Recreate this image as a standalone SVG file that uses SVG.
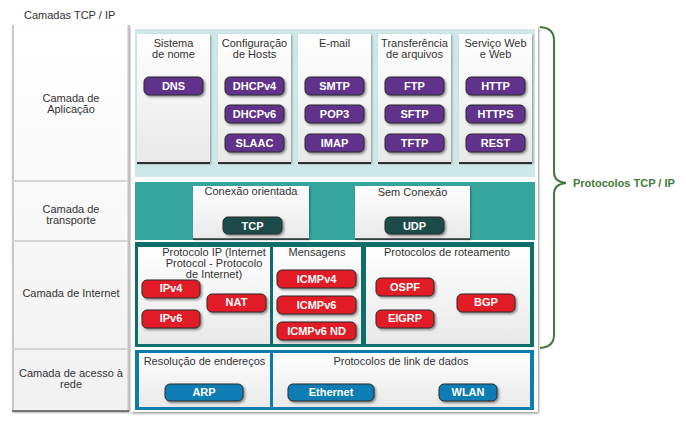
<svg xmlns="http://www.w3.org/2000/svg" width="686" height="438" viewBox="0 0 686 438">
  <defs>
    <linearGradient id="boxGrad" x1="0" y1="0" x2="0" y2="1">
      <stop offset="0" stop-color="#ffffff"/>
      <stop offset="1" stop-color="#e9e9e9"/>
    </linearGradient>
    <linearGradient id="cellGrad" x1="0" y1="0" x2="0" y2="1">
      <stop offset="0" stop-color="#ffffff"/>
      <stop offset="1" stop-color="#f1f1f1"/>
    </linearGradient>
    <filter id="btnShadow" x="-20%" y="-30%" width="140%" height="170%">
      <feDropShadow dx="1.5" dy="1.5" stdDeviation="1" flood-color="#000" flood-opacity="0.45"/>
    </filter>
    <filter id="boxShadow" x="-10%" y="-10%" width="120%" height="120%">
      <feDropShadow dx="1" dy="1" stdDeviation="1" flood-color="#000" flood-opacity="0.35"/>
    </filter>
    <filter id="panelShadow" x="-5%" y="-5%" width="110%" height="110%">
      <feDropShadow dx="1" dy="1.5" stdDeviation="1.2" flood-color="#000" flood-opacity="0.4"/>
    </filter>
  </defs>
  <style>
    text { font-family: "Liberation Sans", Arial, sans-serif; }
    .hdr { font-size: 11px; fill: #333333; text-anchor: middle; }
    .lbl { font-size: 11px; fill: #333333; text-anchor: middle; }
    .btxt { font-size: 11px; font-weight: bold; fill: #ffffff; text-anchor: middle; }
    .box { fill: url(#boxGrad); filter: url(#boxShadow); }
    .btn { stroke: #2b2b2b; stroke-width: 1; filter: url(#btnShadow); }
    .app { fill: #61308b; }
    .tr { fill: #1a4b49; }
    .inet { fill: #e21d26; }
    .net { fill: #0b7db3; }
    .sep { stroke: #d6d6d6; stroke-width: 2; }
  </style>

  <rect width="686" height="438" fill="#ffffff"/>

  <!-- title -->
  <text x="24" y="19" font-size="11" fill="#333333">Camadas TCP / IP</text>

  <!-- left column with the layer names -->
  <g id="layer-names">
    <rect x="12" y="25" width="117" height="386" fill="url(#cellGrad)" filter="url(#panelShadow)"/>
    <line x1="13" y1="25" x2="13" y2="411" stroke="#c9c9c9" stroke-width="2"/>
    <line x1="128.5" y1="25" x2="128.5" y2="411" stroke="#c4c4c4" stroke-width="2"/>
    <line class="sep" x1="13" y1="181" x2="128" y2="181"/>
    <line class="sep" x1="13" y1="241" x2="128" y2="241"/>
    <line class="sep" x1="13" y1="349" x2="128" y2="349"/>
    <line x1="12" y1="411" x2="129" y2="411" stroke="#555555" stroke-width="1.5"/>
    <text class="lbl" x="71" y="102">Camada de</text>
    <text class="lbl" x="71" y="113">Aplicação</text>
    <text class="lbl" x="71" y="213">Camada de</text>
    <text class="lbl" x="71" y="224">transporte</text>
    <text class="lbl" x="71" y="297">Camada de Internet</text>
    <text class="lbl" x="71" y="377">Camada de acesso à</text>
    <text class="lbl" x="71" y="388">rede</text>
  </g>

  <!-- right container -->
  <rect x="131" y="25" width="407" height="387" fill="#ffffff" filter="url(#panelShadow)"/>

  <!-- application layer -->
  <g id="application-layer">
    <rect x="135" y="29" width="400" height="148" fill="#cde8e6"/>
  </g>

  <g id="name-system">
    <rect class="box" x="137" y="34" width="73" height="129"/>
    <line x1="137" y1="163" x2="210" y2="163" stroke="#2e2e2e" stroke-width="2"/>
    <text class="hdr" x="173.5" y="47">Sistema</text>
    <text class="hdr" x="173.5" y="58">de nome</text>
    <g id="dns"><rect class="btn app" x="144" y="77" width="59" height="18" rx="5"/><text class="btxt" x="173.5" y="90">DNS</text></g>
  </g>

  <g id="host-config">
    <rect class="box" x="218" y="34" width="73" height="129"/>
    <line x1="218" y1="163" x2="291" y2="163" stroke="#2e2e2e" stroke-width="2"/>
    <text class="hdr" x="254.5" y="47">Configuração</text>
    <text class="hdr" x="254.5" y="58">de Hosts</text>
    <g id="dhcpv4"><rect class="btn app" x="225" y="77" width="59" height="18" rx="5"/><text class="btxt" x="254.5" y="90">DHCPv4</text></g>
    <g id="dhcpv6"><rect class="btn app" x="225" y="105" width="59" height="18" rx="5"/><text class="btxt" x="254.5" y="118">DHCPv6</text></g>
    <g id="slaac"><rect class="btn app" x="225" y="134" width="59" height="18" rx="5"/><text class="btxt" x="254.5" y="147">SLAAC</text></g>
  </g>

  <g id="email">
    <rect class="box" x="298" y="34" width="73" height="129"/>
    <line x1="298" y1="163" x2="371" y2="163" stroke="#2e2e2e" stroke-width="2"/>
    <text class="hdr" x="334.5" y="47">E-mail</text>
    <g id="smtp"><rect class="btn app" x="305" y="77" width="59" height="18" rx="5"/><text class="btxt" x="334.5" y="90">SMTP</text></g>
    <g id="pop3"><rect class="btn app" x="305" y="105" width="59" height="18" rx="5"/><text class="btxt" x="334.5" y="118">POP3</text></g>
    <g id="imap"><rect class="btn app" x="305" y="134" width="59" height="18" rx="5"/><text class="btxt" x="334.5" y="147">IMAP</text></g>
  </g>

  <g id="file-transfer">
    <rect class="box" x="378" y="34" width="73" height="129"/>
    <line x1="378" y1="163" x2="451" y2="163" stroke="#2e2e2e" stroke-width="2"/>
    <text class="hdr" x="414.5" y="47">Transferência</text>
    <text class="hdr" x="414.5" y="58">de arquivos</text>
    <g id="ftp"><rect class="btn app" x="385" y="77" width="59" height="18" rx="5"/><text class="btxt" x="414.5" y="90">FTP</text></g>
    <g id="sftp"><rect class="btn app" x="385" y="105" width="59" height="18" rx="5"/><text class="btxt" x="414.5" y="118">SFTP</text></g>
    <g id="tftp"><rect class="btn app" x="385" y="134" width="59" height="18" rx="5"/><text class="btxt" x="414.5" y="147">TFTP</text></g>
  </g>

  <g id="web-service">
    <rect class="box" x="459" y="34" width="73" height="129"/>
    <line x1="459" y1="163" x2="532" y2="163" stroke="#2e2e2e" stroke-width="2"/>
    <text class="hdr" x="495.5" y="47">Serviço Web</text>
    <text class="hdr" x="495.5" y="58">e Web</text>
    <g id="http"><rect class="btn app" x="466" y="77" width="59" height="18" rx="5"/><text class="btxt" x="495.5" y="90">HTTP</text></g>
    <g id="https"><rect class="btn app" x="466" y="105" width="59" height="18" rx="5"/><text class="btxt" x="495.5" y="118">HTTPS</text></g>
    <g id="rest"><rect class="btn app" x="466" y="134" width="59" height="18" rx="5"/><text class="btxt" x="495.5" y="147">REST</text></g>
  </g>

  <!-- transport layer -->
  <g id="transport-layer">
    <rect x="135" y="182" width="400" height="58" fill="#34a69e"/>
  </g>

  <g id="connection-oriented">
    <rect class="box" x="193" y="186" width="116" height="53"/>
    <line x1="193" y1="239" x2="309" y2="239" stroke="#2e2e2e" stroke-width="1.5"/>
    <text class="hdr" x="251" y="195">Conexão orientada</text>
    <g id="tcp"><rect class="btn tr" x="223" y="217" width="59" height="17" rx="5"/><text class="btxt" x="252.5" y="229.5">TCP</text></g>
  </g>

  <g id="connectionless">
    <rect class="box" x="355" y="186" width="115" height="53"/>
    <line x1="355" y1="239" x2="470" y2="239" stroke="#2e2e2e" stroke-width="1.5"/>
    <text class="hdr" x="412.5" y="196">Sem Conexão</text>
    <g id="udp"><rect class="btn tr" x="385" y="217" width="59" height="17" rx="5"/><text class="btxt" x="414.5" y="229.5">UDP</text></g>
  </g>

  <!-- internet layer -->
  <g id="internet-layer">
    <rect x="135" y="242" width="399" height="105" fill="#0e6f6a"/>
  </g>

  <g id="ip-protocol">
    <rect x="138" y="247" width="132" height="97" fill="url(#boxGrad)"/>
    <text class="hdr" x="214" y="256">Protocolo IP (Internet</text>
    <text class="hdr" x="214" y="267">Protocol - Protocolo</text>
    <text class="hdr" x="214" y="278">de Internet)</text>
    <g id="ipv4"><rect class="btn inet" x="142" y="280" width="58" height="18" rx="5"/><text class="btxt" x="171" y="292">IPv4</text></g>
    <g id="ipv6"><rect class="btn inet" x="142" y="310" width="58" height="18" rx="5"/><text class="btxt" x="171" y="322">IPv6</text></g>
    <g id="nat"><rect class="btn inet" x="207" y="294" width="59" height="18" rx="5"/><text class="btxt" x="236.5" y="306">NAT</text></g>
  </g>

  <g id="messages">
    <rect x="273" y="247" width="88" height="97" fill="url(#boxGrad)"/>
    <text class="hdr" x="317" y="256">Mensagens</text>
    <g id="icmpv4"><rect class="btn inet" x="277" y="270" width="79" height="18" rx="5"/><text class="btxt" x="316.5" y="282.5">ICMPv4</text></g>
    <g id="icmpv6"><rect class="btn inet" x="277" y="296" width="79" height="18" rx="5"/><text class="btxt" x="316.5" y="308.5">ICMPv6</text></g>
    <g id="icmpv6-nd"><rect class="btn inet" x="277" y="322" width="79" height="18" rx="5"/><text class="btxt" x="316.5" y="334.5">ICMPv6 ND</text></g>
  </g>

  <g id="routing-protocols">
    <rect x="366" y="247" width="164" height="97" fill="url(#boxGrad)"/>
    <text class="hdr" x="447" y="256">Protocolos de roteamento</text>
    <g id="ospf"><rect class="btn inet" x="376" y="278" width="58" height="18" rx="5"/><text class="btxt" x="405" y="290.5">OSPF</text></g>
    <g id="eigrp"><rect class="btn inet" x="376" y="310" width="58" height="18" rx="5"/><text class="btxt" x="405" y="322">EIGRP</text></g>
    <g id="bgp"><rect class="btn inet" x="457" y="294" width="58" height="18" rx="5"/><text class="btxt" x="486" y="306">BGP</text></g>
  </g>

  <!-- network access layer -->
  <g id="network-access-layer">
    <rect x="135" y="350" width="399" height="60" fill="#0b7cb0"/>
  </g>

  <g id="address-resolution">
    <rect x="139" y="353" width="131" height="54" fill="url(#boxGrad)"/>
    <text class="hdr" x="204.5" y="365">Resolução de endereços</text>
    <g id="arp"><rect class="btn net" x="165" y="384" width="78" height="17" rx="5"/><text class="btxt" x="204" y="396">ARP</text></g>
  </g>

  <g id="data-link">
    <rect x="273" y="353" width="257" height="54" fill="url(#boxGrad)"/>
    <text class="hdr" x="401" y="365">Protocolos de link de dados</text>
    <g id="ethernet"><rect class="btn net" x="288" y="384" width="86" height="17" rx="5"/><text class="btxt" x="331" y="396">Ethernet</text></g>
    <g id="wlan"><rect class="btn net" x="439" y="384" width="58" height="17" rx="5"/><text class="btxt" x="468" y="396">WLAN</text></g>
  </g>

  <!-- brace grouping the protocol layers -->
  <g id="connectors">
    <path d="M540 27 Q554 28 554 40 L554 172 Q554 182 566 183 Q554 184 554 194 L554 335 Q554 347 540 348" fill="none" stroke="#3f7b3a" stroke-width="2"/>
  </g>
  <g id="tcpip-protocols">
    <text x="573" y="187" font-size="11" font-weight="bold" fill="#3f7b3a">Protocolos TCP / IP</text>
  </g>
</svg>
